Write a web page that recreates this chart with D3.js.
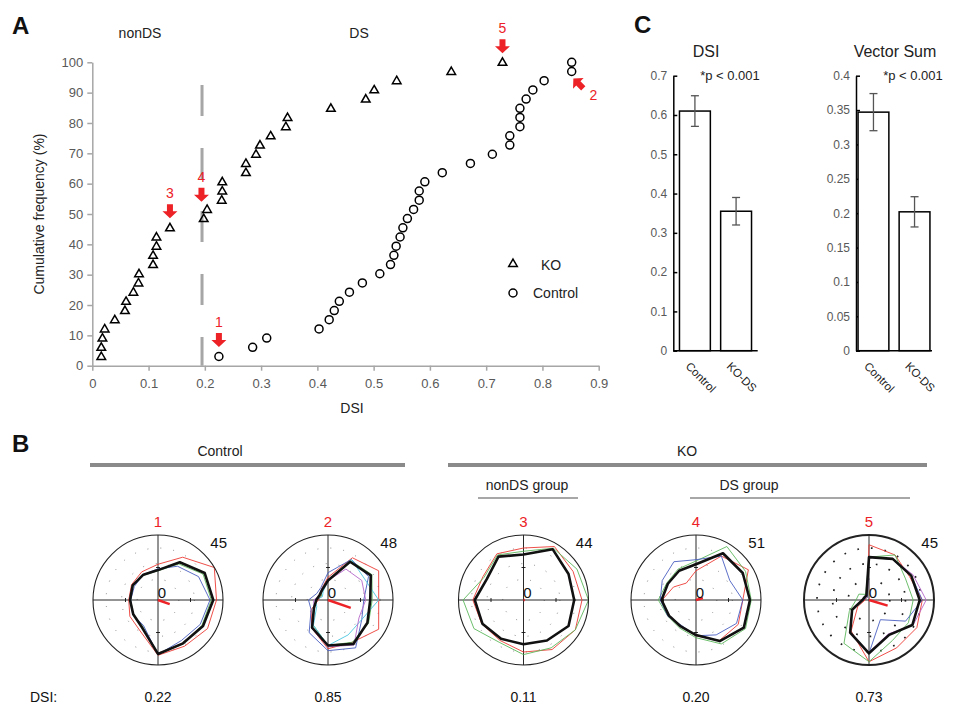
<!DOCTYPE html>
<html>
<head>
<meta charset="utf-8">
<script src="https://cdn.jsdelivr.net/npm/d3@7"></script>
<style>
  body { margin: 0; background: #fff; }
  svg { display: block; font-family: "Liberation Sans", Arial, sans-serif; }
</style>
</head>
<body>
<div id="chart"></div>
<script>

// ---- panel A data: DSI of each cell, sorted (cumulative frequency plot)
const koDSI = [0.016, 0.016, 0.018, 0.022, 0.040, 0.058, 0.060, 0.073, 0.082, 0.083,
    0.108, 0.108, 0.114, 0.114, 0.138, 0.198, 0.204, 0.230, 0.231, 0.231,
    0.273, 0.273, 0.291, 0.298, 0.317, 0.344, 0.347, 0.424, 0.486, 0.501,
    0.541, 0.638, 0.729];
const controlDSI = [0.225, 0.285, 0.310, 0.403, 0.421, 0.430, 0.439, 0.457, 0.480, 0.511,
    0.530, 0.536, 0.540, 0.547, 0.552, 0.560, 0.571, 0.581, 0.581, 0.591,
    0.622, 0.672, 0.711, 0.742, 0.742, 0.760, 0.760, 0.760, 0.771, 0.783,
    0.803, 0.852, 0.852];
const xTicksA = [0, 0.1, 0.2, 0.3, 0.4, 0.5, 0.6, 0.7, 0.8, 0.9];
const yTicksA = [0, 10, 20, 30, 40, 50, 60, 70, 80, 90, 100];
const dsThreshold = 0.195;
// arrows pointing at the example cells: [label, DSI, %]
const arrowNotes = [["1", 0.225, 6.2, "down"], ["3", 0.138, 48.6, "down"],
    ["4", 0.194, 54.0, "down"], ["5", 0.729, 103.0, "down"], ["2", 0.855, 94.7, "upleft"]];

// ---- panel C data
const barGroups = ["Control", "KO-DS"];
const dsiMean = [0.61, 0.355];
const dsiSem = [0.039, 0.035];
const vsMean = [0.347, 0.202];
const vsSem = [0.027, 0.022];
const dsiTicks = [0, 0.1, 0.2, 0.3, 0.4, 0.5, 0.6, 0.7];
const vsTicks = [0, 0.05, 0.1, 0.15, 0.2, 0.25, 0.3, 0.35, 0.4];

// ---- panel B data: tuning curves (fraction of peak) at 12 directions
const directions = [0, 30, 60, 90, 120, 150, 180, 210, 240, 270, 300, 330];
const cellIds = ["1", "2", "3", "4", "5"];
const cellPeaks = [45, 48, 44, 51, 45];
const cellDSI = ["0.22", "0.85", "0.11", "0.20", "0.73"];
const vectorLen = [0.19, 0.37, 0.02, 0.11, 0.30];
const vectorDir = [-19, -19, 0, 15, -17];
const meanCurves = [
    [0.85, 0.83, 0.67, 0.46, 0.45, 0.45, 0.43, 0.44, 0.49, 0.83, 0.77, 0.80],
    [0.65, 0.76, 0.68, 0.30, 0.18, 0.15, 0.18, 0.25, 0.49, 0.70, 0.78, 0.70],
    [0.78, 0.80, 0.90, 0.70, 0.77, 0.65, 0.75, 0.73, 0.69, 0.68, 0.72, 0.80],
    [0.83, 0.83, 0.83, 0.55, 0.52, 0.50, 0.53, 0.48, 0.47, 0.54, 0.73, 0.85],
    [0.78, 0.75, 0.73, 0.66, 0.08, 0.08, 0.10, 0.30, 0.58, 0.82, 0.62, 0.77]
];
const trialCurves = [
    [
        ["red", [0.90, 1.00, 0.76, 0.55, 0.50, 0.47, 0.45, 0.50, 0.55, 0.85, 0.82, 0.88]],
        ["green", [0.82, 0.80, 0.64, 0.45, 0.44, 0.44, 0.42, 0.44, 0.47, 0.83, 0.78, 0.78]],
        ["blue", [0.80, 0.72, 0.60, 0.48, 0.45, 0.42, 0.42, 0.45, 0.45, 0.84, 0.72, 0.75]]
    ],
    [
        ["red", [0.78, 0.90, 0.75, 0.35, 0.20, 0.12, 0.15, 0.30, 0.50, 0.75, 0.75, 0.90]],
        ["green", [0.68, 0.78, 0.70, 0.30, 0.20, 0.12, 0.18, 0.25, 0.45, 0.70, 0.75, 0.72]],
        ["blue", [0.55, 0.72, 0.72, 0.42, 0.22, 0.20, 0.30, 0.30, 0.58, 0.78, 0.85, 0.60]],
        ["cyan", [0.78, 0.65, 0.72, 0.30, 0.15, 0.10, 0.20, 0.20, 0.45, 0.70, 0.62, 0.60]],
        ["magenta", [0.58, 0.60, 0.55, 0.30, 0.20, 0.15, 0.22, 0.25, 0.50, 0.72, 0.80, 0.55]]
    ],
    [
        ["red", [0.90, 0.88, 0.95, 0.80, 0.82, 0.72, 0.78, 0.74, 0.72, 0.80, 0.88, 0.92]],
        ["green", [1.00, 0.95, 0.92, 0.75, 0.80, 0.70, 0.93, 0.88, 0.75, 0.84, 0.85, 0.92]]
    ],
    [
        ["red", [0.72, 0.93, 0.78, 0.45, 0.30, 0.40, 0.52, 0.48, 0.47, 0.55, 0.72, 0.75]],
        ["green", [0.85, 0.88, 0.95, 0.60, 0.55, 0.52, 0.58, 0.50, 0.50, 0.58, 0.78, 0.88]],
        ["blue", [0.72, 0.60, 0.78, 0.62, 0.68, 0.60, 0.55, 0.50, 0.45, 0.55, 0.62, 0.72]]
    ],
    [
        ["red", [0.82, 0.72, 0.80, 0.85, 0.05, 0.05, 0.06, 0.20, 0.55, 0.95, 0.85, 0.85]],
        ["green", [0.68, 0.65, 0.80, 0.66, 0.10, 0.18, 0.20, 0.35, 0.77, 0.95, 0.72, 0.70]],
        ["magenta", [0.88, 0.78, 0.73, 0.66, 0.08, 0.08, 0.10, 0.30, 0.58, 0.80, 0.60, 0.78]],
        ["blue", [0.82, 0.75, 0.72, 0.66, 0.05, 0.05, 0.10, 0.30, 0.58, 0.82, 0.35, 0.65]]
    ]
];

const traceColors = {red: "#ec3b34", green: "#5cb85c", blue: "#4a5fc1", cyan: "#4cc6e0", magenta: "#b667c9"};
const RED = "#ec2227";
const AXIS_GREY = "#a6a6a6";
const LABEL_GREY = "#595959";

const svg = d3.select("#chart").append("svg")
    .attr("width", 953)
    .attr("height", 704);

// panel letters
const letters = [["A", 12, 34], ["B", 12, 452], ["C", 634, 33]];
svg.selectAll(".letter")
    .data(letters)
    .enter()
    .append("text")
    .attr("class", "letter")
    .attr("x", d => d[1])
    .attr("y", d => d[2])
    .attr("font-size", 24)
    .attr("font-weight", 700)
    .attr("fill", "#111")
    .text(d => d[0]);

// ================= Panel A =================
const buildCumulative = () => {

    const x = d3.scaleLinear().domain([0, 0.9]).range([92.3, 598.7]);
    const y = d3.scaleLinear().domain([0, 100]).range([365.7, 62.3]);
    const g = svg.append("g").attr("class", "panel-a");

    const cumul = arr => arr.map((v, i) => ({dsi: v, pct: (i + 1) / arr.length * 100}));

    g.append("g")
        .attr("transform", `translate(0,${y(0)})`)
        .call(d3.axisBottom(x).tickValues(xTicksA)
            .tickFormat(d => d === 0 ? "0" : d3.format(".1f")(d))
            .tickSize(5).tickSizeOuter(0).tickPadding(8));

    g.append("g")
        .attr("transform", `translate(${x(0)},0)`)
        .call(d3.axisLeft(y).tickValues(yTicksA).tickSize(5).tickSizeOuter(0).tickPadding(4));

    g.selectAll(".domain, .tick line").attr("stroke", AXIS_GREY).attr("stroke-width", 1.5);
    g.selectAll(".tick text").attr("fill", LABEL_GREY).attr("font-size", 13)
        .attr("font-family", "Liberation Sans, Arial, sans-serif");

    // DS / nonDS threshold
    g.append("line")
        .attr("x1", x(dsThreshold)).attr("x2", x(dsThreshold))
        .attr("y1", y(92.5)).attr("y2", y(0))
        .attr("stroke", "#a6a6a6")
        .attr("stroke-width", 3)
        .attr("stroke-dasharray", "31,32");

    const tri = d3.symbol().type(d3.symbolTriangle).size(32);

    g.append("g").selectAll("path")
        .data(cumul(koDSI))
        .enter()
        .append("path")
        .attr("d", tri)
        .attr("transform", d => `translate(${x(d.dsi)},${y(d.pct) + 0.5})`)
        .attr("fill", "none")
        .attr("stroke", "#000")
        .attr("stroke-width", 1.5);

    g.append("g").selectAll("circle")
        .data(cumul(controlDSI))
        .enter()
        .append("circle")
        .attr("cx", d => x(d.dsi))
        .attr("cy", d => y(d.pct))
        .attr("r", 4)
        .attr("fill", "none")
        .attr("stroke", "#000")
        .attr("stroke-width", 1.5);

    // arrows
    const arrowShape = "M-3,-14 L3,-14 L3,-7 L7.5,-7 L0,0 L-7.5,-7 L-3,-7 Z";
    const notes = g.append("g").selectAll("g")
        .data(arrowNotes)
        .enter()
        .append("g")
        .attr("transform", d => `translate(${x(d[1])},${y(d[2])})`);

    notes.append("path")
        .attr("d", arrowShape)
        .attr("fill", RED)
        .attr("transform", d => d[3] === "upleft" ? "rotate(135)" : null);

    notes.append("text")
        .attr("x", d => d[3] === "upleft" ? 20 : 0)
        .attr("y", d => d[3] === "upleft" ? 22 : -20)
        .attr("text-anchor", "middle")
        .attr("font-size", 14)
        .attr("fill", RED)
        .text(d => d[0]);

    // group titles and axis titles
    g.append("text").attr("x", 140).attr("y", 38).attr("text-anchor", "middle")
        .attr("font-size", 14).attr("fill", "#222").text("nonDS");
    g.append("text").attr("x", 359).attr("y", 38).attr("text-anchor", "middle")
        .attr("font-size", 14).attr("fill", "#222").text("DS");
    g.append("text").attr("x", 352).attr("y", 413).attr("text-anchor", "middle")
        .attr("font-size", 14).attr("fill", "#222").text("DSI");
    g.append("text")
        .attr("transform", "translate(44,214) rotate(-90)")
        .attr("text-anchor", "middle")
        .attr("font-size", 14)
        .attr("fill", "#222")
        .text("Cumulative frequency (%)");

    // legend
    const legend = g.append("g");
    legend.append("path").attr("d", tri).attr("transform", "translate(513,264)")
        .attr("fill", "none").attr("stroke", "#000").attr("stroke-width", 1.5);
    legend.append("circle").attr("cx", 513).attr("cy", 293).attr("r", 4)
        .attr("fill", "none").attr("stroke", "#000").attr("stroke-width", 1.5);
    legend.append("text").attr("x", 541).attr("y", 270).attr("font-size", 14)
        .attr("fill", "#222").text("KO");
    legend.append("text").attr("x", 533).attr("y", 298).attr("font-size", 14)
        .attr("fill", "#222").text("Control");
};

// ================= Panel C =================
const buildBars = (opts) => {

    const g = svg.append("g").attr("class", "panel-c");
    const y = d3.scaleLinear().domain(opts.domain).range([350.7, 75.7]);
    const x = d3.scaleBand().domain(barGroups)
        .range([opts.x0, opts.x1])
        .paddingInner(0.25)
        .paddingOuter(opts.outer);

    g.append("g")
        .attr("transform", `translate(${opts.x0},0)`)
        .call(d3.axisLeft(y).tickValues(opts.ticks).tickSizeInner(-4).tickSizeOuter(0)
            .tickPadding(6).tickFormat(d => d === 0 ? "0" : String(+d.toFixed(2))));

    g.append("line")
        .attr("x1", opts.x0).attr("x2", opts.x1)
        .attr("y1", y(0)).attr("y2", y(0))
        .attr("stroke", "#000").attr("stroke-width", 1.5);

    g.selectAll(".domain, .tick line").attr("stroke", "#000").attr("stroke-width", 1.5);
    g.selectAll(".tick text").attr("fill", LABEL_GREY).attr("font-size", 12)
        .attr("font-family", "Liberation Sans, Arial, sans-serif");

    g.selectAll("rect")
        .data(opts.means)
        .enter()
        .append("rect")
        .attr("x", (d, i) => x(barGroups[i]))
        .attr("y", d => y(d))
        .attr("width", x.bandwidth())
        .attr("height", d => y(0) - y(d))
        .attr("fill", "#fff")
        .attr("stroke", "#000")
        .attr("stroke-width", 1.5);

    const err = g.append("g").selectAll("g")
        .data(opts.means)
        .enter()
        .append("g")
        .attr("transform", (d, i) => `translate(${x(barGroups[i]) + x.bandwidth() / 2},0)`);

    err.append("line")
        .attr("y1", (d, i) => y(d - opts.sems[i]))
        .attr("y2", (d, i) => y(d + opts.sems[i]))
        .attr("stroke", "#555").attr("stroke-width", 1.3);
    [-1, 1].forEach(s => {
        err.append("line")
            .attr("x1", -4).attr("x2", 4)
            .attr("y1", (d, i) => y(d + s * opts.sems[i]))
            .attr("y2", (d, i) => y(d + s * opts.sems[i]))
            .attr("stroke", "#555").attr("stroke-width", 1.3);
    });

    g.selectAll(".bar-label")
        .data(barGroups)
        .enter()
        .append("text")
        .attr("class", "bar-label")
        .attr("transform", d => `translate(${x(d) + x.bandwidth() / 2 - 10},367) rotate(45)`)
        .attr("font-size", 11.5)
        .attr("fill", "#222")
        .text(d => d);

    g.append("text").attr("x", opts.titleX).attr("y", 57).attr("text-anchor", "middle")
        .attr("font-size", 16).attr("fill", "#222").text(opts.title);
    g.append("text").attr("x", opts.pX).attr("y", 80).attr("text-anchor", "middle")
        .attr("font-size", 13).attr("fill", "#222").text("*p < 0.001");
};

// ================= Panel B =================
const buildPolar = () => {

    const g = svg.append("g").attr("class", "panel-b");
    const centers = [158, 328, 523.5, 696, 869];
    const cy = 600;
    const R = 65;
    const r = d3.scaleLinear().domain([0, 1]).range([0, R]);
    const radial = d3.lineRadial()
        .angle((d, i) => (90 - directions[i]) * Math.PI / 180)
        .radius(d => r(d))
        .curve(d3.curveLinearClosed);

    // group headers
    const headers = [["Control", 220, 456, 90, 405, 465, 4], ["KO", 687, 456, 448, 927, 465, 4],
        ["nonDS group", 527, 490, 478, 578, 498, 1.5], ["DS group", 749, 490, 690, 910, 498, 1.5]];
    headers.forEach(h => {
        g.append("text").attr("x", h[1]).attr("y", h[2]).attr("text-anchor", "middle")
            .attr("font-family", "Liberation Sans Narrow, Liberation Sans, Arial, sans-serif")
            .attr("font-size", 14).attr("fill", "#222").text(h[0]);
        g.append("line").attr("x1", h[3]).attr("x2", h[4]).attr("y1", h[5]).attr("y2", h[5])
            .attr("stroke", "#8a8a8a").attr("stroke-width", h[6]);
    });

    const cells = g.selectAll(".cell")
        .data(cellIds)
        .enter()
        .append("g")
        .attr("class", "cell")
        .attr("transform", (d, i) => `translate(${centers[i]},${cy})`);

    cells.each(function (id, i) {
        const c = d3.select(this);
        const last = i === 4;

        [0.32, 0.56, 0.8].forEach(f => {
            c.append("circle").attr("r", r(f))
                .attr("fill", "none")
                .attr("stroke", last ? "#222" : "#888")
                .attr("stroke-width", last ? 1.7 : 1)
                .attr("stroke-dasharray", last ? "1.7,12" : "1,12");
        });

        c.append("line").attr("x1", -R).attr("x2", R).attr("stroke", "#111").attr("stroke-width", 0.9);
        c.append("line").attr("y1", -R).attr("y2", R).attr("stroke", "#111").attr("stroke-width", 0.9);
        [-0.5, 0.5].forEach(f => {
            c.append("line").attr("x1", r(f)).attr("x2", r(f)).attr("y1", -2).attr("y2", 2)
                .attr("stroke", "#111").attr("stroke-width", 0.9);
            c.append("line").attr("y1", r(f)).attr("y2", r(f)).attr("x1", -2).attr("x2", 2)
                .attr("stroke", "#111").attr("stroke-width", 0.9);
        });

        trialCurves[i].forEach(t => {
            c.append("path").attr("d", radial(t[1]))
                .attr("fill", "none")
                .attr("stroke", traceColors[t[0]])
                .attr("stroke-width", 0.9);
        });

        c.append("path").attr("d", radial(meanCurves[i]))
            .attr("fill", "none")
            .attr("stroke", "#111")
            .attr("stroke-width", 2.6)
            .attr("stroke-linejoin", "round");

        c.append("circle").attr("r", R)
            .attr("fill", "none")
            .attr("stroke", "#222")
            .attr("stroke-width", last ? 2 : 1.1);

        const a = vectorDir[i] * Math.PI / 180;
        c.append("line")
            .attr("x2", r(vectorLen[i]) * Math.cos(a))
            .attr("y2", -r(vectorLen[i]) * Math.sin(a))
            .attr("stroke", RED)
            .attr("stroke-width", 2.4);

        c.append("text").attr("x", 4).attr("y", -2).attr("text-anchor", "middle")
            .attr("font-size", 15).attr("fill", "#111").text("0");
        c.append("text").attr("x", 0).attr("y", -73).attr("text-anchor", "middle")
            .attr("font-size", 15).attr("fill", RED).text(id);
        c.append("text").attr("x", 69).attr("y", -52).attr("text-anchor", "end")
            .attr("font-size", 15).attr("fill", "#111").text(cellPeaks[i]);
        c.append("text").attr("x", 0).attr("y", 102).attr("text-anchor", "middle")
            .attr("font-size", 14).attr("fill", "#111").text(cellDSI[i]);
    });

    g.append("text").attr("x", 30).attr("y", 702).attr("font-size", 14)
        .attr("fill", "#111").text("DSI:");
};

buildCumulative();
buildBars({domain: [0, 0.7], ticks: dsiTicks, x0: 673.3, x1: 757.7, outer: 0.15,
    means: dsiMean, sems: dsiSem, title: "DSI", titleX: 706, pX: 730});
buildBars({domain: [0, 0.4], ticks: vsTicks, x0: 856, x1: 932, outer: 0.05,
    means: vsMean, sems: vsSem, title: "Vector Sum", titleX: 895, pX: 913});
buildPolar();

</script>
</body>
</html>
